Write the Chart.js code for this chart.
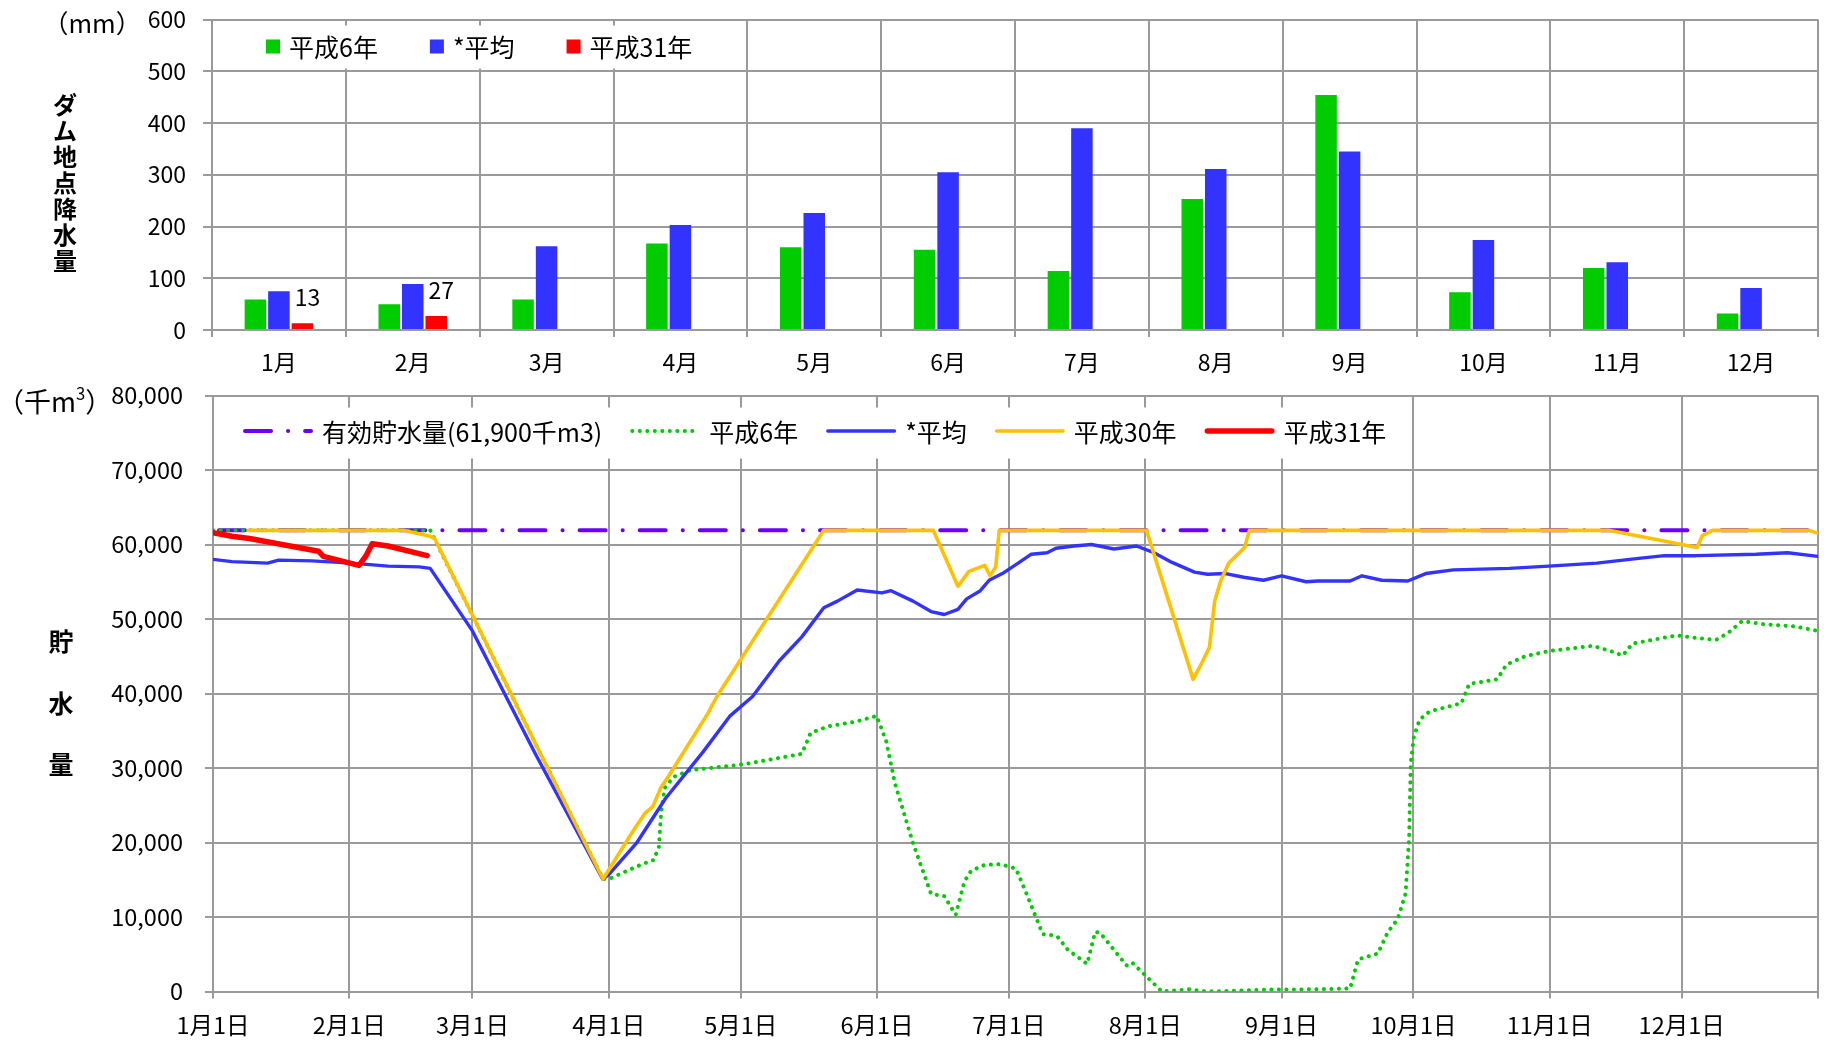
<!DOCTYPE html>
<html lang="ja">
<head>
<meta charset="utf-8">
<title>ダム地点降水量・貯水量</title>
<script src="https://cdn.jsdelivr.net/npm/chart.js@4.4.0/dist/chart.umd.min.js"></script>
<style>
    html, body { margin: 0; padding: 0; background: #fff; }
    body {
        width: 1824px; height: 1046px; position: relative; overflow: hidden;
        font-family: 'Noto Sans CJK JP', 'Noto Sans', sans-serif; color: #000;
    }
    canvas { position: absolute; left: 0; }
    #rainChart { top: 0; }
    #storageChart { top: 370px; }
    .unit { position: absolute; line-height: 28px; white-space: nowrap; }
    .unit sup { font-size: 0.62em; position: relative; top: -0.1em; }
    .vtitle { position: absolute; width: 40px; text-align: center; font-weight: bold; }
    .vtitle span { display: block; }
</style>
</head>
<body>
<canvas id="rainChart" width="1824" height="385"></canvas>
<canvas id="storageChart" width="1824" height="676"></canvas>

<div class="unit" style="left:43px; top:8px; font-size:25.5px;">（mm）</div>
<div class="unit" style="left:-3px; top:381px; font-size:27px;">（千m<sup>3</sup>）</div>
<div class="vtitle" style="left:45px; top:91px; font-size:24px; line-height:26px;">
    <span>ダ</span><span>ム</span><span>地</span><span>点</span><span>降</span><span>水</span><span>量</span>
</div>
<div class="vtitle" style="left:41px; top:610px; font-size:25px; line-height:61.5px;">
    <span>貯</span><span>水</span><span>量</span>
</div>

<script>
'use strict';

// ---- 月別降水量 (mm) ----
var months = ['1月', '2月', '3月', '4月', '5月', '6月', '7月', '8月', '9月', '10月', '11月', '12月'];
var rainH6 = [59, 50, 59, 167, 160, 155, 114, 253, 454, 73, 120, 32];
var rainAvg = [75, 89, 162, 203, 226, 305, 390, 311, 345, 174, 131, 81];
var rainH31 = [13, 27, null, null, null, null, null, null, null, null, null, null];

// ---- 貯水量 (千m3), x = 1月1日からの日数 ----
var monthStartDays = [0, 31, 59, 90, 120, 151, 181, 212, 243, 273, 304, 334, 365];
var monthStartLabels = ['1月1日', '2月1日', '3月1日', '4月1日', '5月1日', '6月1日', '7月1日',
    '8月1日', '9月1日', '10月1日', '11月1日', '12月1日', ''];

var capDays = [0, 365];
var capVals = [61900, 61900];

var h6Days = [0, 49.4, 59, 73.3, 88.7, 90, 97.6, 100.2, 101.4, 101.9, 102.7, 104.7, 108.5,
    120.7, 133.9, 135.9, 139.9, 146, 149.1, 150.9, 153.1, 155.1, 159.2, 163.3, 166.3,
    168.9, 170.9, 172.4, 175.5, 179, 182.6, 184.6, 188.7, 190.4, 192, 194.4, 197.4,
    198.8, 200.6, 201.7, 204.2, 206.5, 207.8, 209, 210.4, 213.1, 215.8, 222, 226, 240,
    251, 258.6, 260.4, 264.9, 267.2, 269.4, 271.2, 272, 272.4, 273.1, 274.4, 276.7,
    283.9, 285.7, 292, 294.2, 298.4, 303.8, 313.8, 318.3, 320.6, 322.8, 332.8, 338.2,
    341.8, 344.5, 347.7, 352.7, 359.9, 365];
var h6Vals = [61900, 61900, 50500, 33300, 15100, 15100, 17100, 17650, 19400, 23900, 27300,
    28800, 29700, 30500, 31900, 34700, 35600, 36200, 36700, 37000, 33600, 27900, 19900,
    13100, 12800, 10300, 14800, 16200, 17000, 17100, 16500, 13700, 7700, 7600, 7400,
    5600, 4300, 3700, 8000, 7900, 6100, 4400, 3500, 3900, 3100, 1550, 0, 300, 0, 250,
    300, 400, 4300, 5100, 8000, 9700, 13100, 20500, 30800, 34200, 36500, 37600, 38700,
    41300, 41900, 43900, 45000, 45700, 46400, 45600, 45100, 46700, 47800, 47400, 47200,
    48100, 49700, 49300, 49000, 48400];

var avgDays = [0, 4.3, 12.4, 14.9, 22.5, 28.6, 35.7, 39.8, 46.9, 49.4, 59, 73.3, 88.6, 90,
    96.3, 102.9, 111.5, 117.6, 122.7, 128.8, 133.9, 138.9, 142, 146.5, 152.1, 154.2,
    159.2, 163.3, 166.3, 169.4, 171.4, 174.5, 176.5, 179.5, 183.1, 186.1, 189.7, 191.7,
    195.8, 199.8, 204.9, 210, 214, 218.1, 223.2, 226.2, 230.3, 234.4, 238.9, 243, 248.6,
    251.3, 258.6, 261.3, 265.8, 271.7, 275.8, 282.1, 294.8, 303.8, 314.7, 323.7, 330.1,
    337.3, 350.9, 358.1, 365];
var avgVals = [58000, 57700, 57500, 57900, 57800, 57600, 57300, 57100, 57000, 56800, 48400,
    31900, 15100, 15700, 19900, 25900, 32200, 37000, 39600, 44400, 47600, 51500, 52400,
    53900, 53500, 53800, 52400, 51000, 50600, 51300, 52700, 53800, 55200, 56100, 57500,
    58700, 58900, 59500, 59800, 60000, 59400, 59800, 58900, 57600, 56300, 56000, 56100,
    55600, 55200, 55800, 55000, 55100, 55100, 55800, 55200, 55100, 56100, 56600, 56800,
    57100, 57500, 58100, 58500, 58500, 58700, 58900, 58400];

var h30Days = [8, 43.3, 49.4, 50.4, 59, 73.3, 88.7, 95.6, 98.2, 100, 101.8, 103.7, 112.5,
    114.6, 138.9, 163.8, 169.4, 171.9, 175.5, 176.7, 178, 178.8, 212.3, 222.9, 224.7,
    226.6, 227.8, 229.2, 231, 234.6, 235.7, 317.4, 337.5, 338.7, 341, 363, 365];
var h30Vals = [61900, 61900, 61100, 60800, 50500, 33300, 15100, 21600, 23900, 24800, 27300,
    29000, 37300, 39600, 61900, 61900, 54400, 56400, 57200, 55800, 57000, 61900, 61900,
    41900, 43900, 46200, 52400, 55200, 57500, 59600, 61900, 61900, 59600, 61200, 61900,
    61900, 61500];

var h31Days = [0, 4.3, 8.3, 24, 25.1, 33.2, 34.7, 36.2, 39.8, 48.7];
var h31Vals = [61600, 61100, 60800, 59100, 58400, 57200, 58400, 60100, 59800, 58500];

var FONT = "'Noto Sans CJK JP', 'Noto Sans', sans-serif";
var GRID = '#9a9a9a';

Chart.defaults.font.family = FONT;
Chart.defaults.color = '#000';

/**
 * Zip two arrays into {x, y} points for a linear x axis
 */
function toPoints(days, vals) {
    return days.map(function (d, i) {
        return { x: d, y: vals[i] };
    });
}

/**
 * Fix an axis to a set size and drop the extra room Chart.js keeps for edge labels,
 * so the layout padding alone places the plot area
 */
function fixedAxis(size) {
    return function (scale) {
        if (scale.isHorizontal()) {
            scale.height = size;
        } else {
            scale.width = size;
        }
        scale.paddingLeft = 0;
        scale.paddingRight = 0;
        scale.paddingTop = 0;
        scale.paddingBottom = 0;
    };
}

/**
 * Legend drawn inside the plot area on a white box, like the original sheet
 */
var insideLegend = {
    id: 'insideLegend',
    afterDraw: function (chart, args, opts) {
        var ctx = chart.ctx;
        var area = chart.chartArea;
        var y = area.top + opts.dy;
        var x = area.left + opts.dx;
        ctx.save();
        ctx.fillStyle = '#fff';
        ctx.fillRect(area.left + opts.box[0], area.top + opts.box[1], opts.box[2], opts.box[3]);
        ctx.font = opts.fontSize + 'px ' + FONT;
        ctx.textBaseline = 'middle';
        chart.data.datasets.forEach(function (ds) {
            if (opts.square) {
                ctx.fillStyle = ds.backgroundColor;
                ctx.fillRect(x, y - 7, 14, 14);
                x += 14;
            } else {
                ctx.strokeStyle = ds.borderColor;
                ctx.lineWidth = ds.borderWidth;
                ctx.lineCap = ds.borderCapStyle || 'butt';
                ctx.setLineDash(ds.borderDash || []);
                ctx.lineDashOffset = 0;
                ctx.beginPath();
                ctx.moveTo(x + ds.borderWidth / 2, y);
                ctx.lineTo(x + opts.sample - ds.borderWidth / 2, y);
                ctx.stroke();
                ctx.setLineDash([]);
                x += opts.sample;
            }
            x += opts.gap;
            ctx.fillStyle = '#000';
            ctx.fillText(ds.label, x, y + 1);
            x += ctx.measureText(ds.label).width + opts.spacing;
        });
        ctx.restore();
    }
};

/**
 * Value labels above the 平成31年 bars
 */
var barValueLabels = {
    id: 'barValueLabels',
    afterDatasetsDraw: function (chart) {
        var ctx = chart.ctx;
        var meta = chart.getDatasetMeta(2);
        var values = chart.data.datasets[2].data;
        ctx.save();
        ctx.font = '23px ' + FONT;
        ctx.fillStyle = '#000';
        ctx.textAlign = 'center';
        ctx.textBaseline = 'middle';
        meta.data.forEach(function (bar, i) {
            if (values[i] === null) {
                return;
            }
            ctx.fillText(String(values[i]), bar.x + 5, bar.y - 26);
        });
        ctx.restore();
    }
};

// ---- 上段：降水量の棒グラフ ----
new Chart(document.getElementById('rainChart'), {
    type: 'bar',
    data: {
        labels: months,
        datasets: [
            { label: '平成6年', data: rainH6, backgroundColor: '#00cc00' },
            { label: '*平均', data: rainAvg, backgroundColor: '#3333ff' },
            { label: '平成31年', data: rainH31, backgroundColor: '#ff0000' }
        ]
    },
    options: {
        responsive: false,
        animation: false,
        devicePixelRatio: 1,
        layout: { padding: { left: 0, right: 6, top: 19.5, bottom: 0 } },
        datasets: { bar: { categoryPercentage: 0.527, barPercentage: 0.915 } },
        plugins: {
            legend: { display: false },
            tooltip: { enabled: false },
            insideLegend: {
                square: true, dx: 54, dy: 27, fontSize: 25, gap: 9, spacing: 52,
                box: [40, 6, 470, 43]
            }
        },
        scales: {
            x: {
                grid: { color: GRID, lineWidth: 2, offset: true, tickLength: 7 },
                border: { color: GRID, width: 2 },
                ticks: { font: { size: 23 }, padding: 11, maxRotation: 0 },
                afterFit: fixedAxis(55)
            },
            y: {
                min: 0,
                max: 600,
                grid: { color: GRID, lineWidth: 2, tickLength: 9 },
                border: { color: GRID, width: 2 },
                ticks: { stepSize: 100, font: { size: 23 }, padding: 17 },
                afterFit: fixedAxis(212)
            }
        }
    },
    plugins: [insideLegend, barValueLabels]
});

// ---- 下段：貯水量の折れ線グラフ ----
new Chart(document.getElementById('storageChart'), {
    type: 'line',
    data: {
        datasets: [
            {
                label: '有効貯水量(61,900千m3)', data: toPoints(capDays, capVals),
                borderColor: '#6a00ff', borderWidth: 4, borderCapStyle: 'round',
                borderDash: [26, 17, 0.1, 17], borderDashOffset: -6, order: 4
            },
            {
                label: '平成6年', data: toPoints(h6Days, h6Vals),
                borderColor: '#00cc00', borderWidth: 4, borderCapStyle: 'round',
                borderDash: [0.1, 7.4], order: 3
            },
            {
                label: '*平均', data: toPoints(avgDays, avgVals),
                borderColor: '#3333ff', borderWidth: 3.4, borderCapStyle: 'round', order: 2
            },
            {
                label: '平成30年', data: toPoints(h30Days, h30Vals),
                borderColor: '#ffc000', borderWidth: 3.6, borderCapStyle: 'round', order: 1
            },
            {
                label: '平成31年', data: toPoints(h31Days, h31Vals),
                borderColor: '#ff0000', borderWidth: 5.5, borderCapStyle: 'round', order: 0
            }
        ]
    },
    options: {
        responsive: false,
        animation: false,
        devicePixelRatio: 1,
        layout: { padding: { left: 0, right: 6, top: 25.5, bottom: 0 } },
        elements: {
            point: { radius: 0 },
            line: { tension: 0, borderJoinStyle: 'round' }
        },
        plugins: {
            legend: { display: false },
            tooltip: { enabled: false },
            insideLegend: {
                square: false, dx: 30, dy: 35.5, fontSize: 25, sample: 70, gap: 9, spacing: 28,
                box: [14, 12, 1180, 51]
            }
        },
        scales: {
            x: {
                type: 'linear',
                min: 0,
                max: 365,
                afterBuildTicks: function (scale) {
                    scale.ticks = monthStartDays.map(function (d) { return { value: d }; });
                },
                grid: { color: GRID, lineWidth: 2, tickLength: 7 },
                border: { color: GRID, width: 2 },
                ticks: {
                    autoSkip: false,
                    maxRotation: 0,
                    font: { size: 23.5 },
                    padding: 12,
                    callback: function (value) {
                        return monthStartLabels[monthStartDays.indexOf(value)];
                    }
                },
                afterFit: fixedAxis(54.5)
            },
            y: {
                min: 0,
                max: 80000,
                grid: { color: GRID, lineWidth: 2, tickLength: 8 },
                border: { color: GRID, width: 2 },
                ticks: {
                    stepSize: 10000,
                    font: { size: 23.5 },
                    padding: 22,
                    callback: function (value) {
                        return value.toLocaleString('en-US');
                    }
                },
                afterFit: fixedAxis(213)
            }
        }
    },
    plugins: [insideLegend]
});
</script>
</body>
</html>
